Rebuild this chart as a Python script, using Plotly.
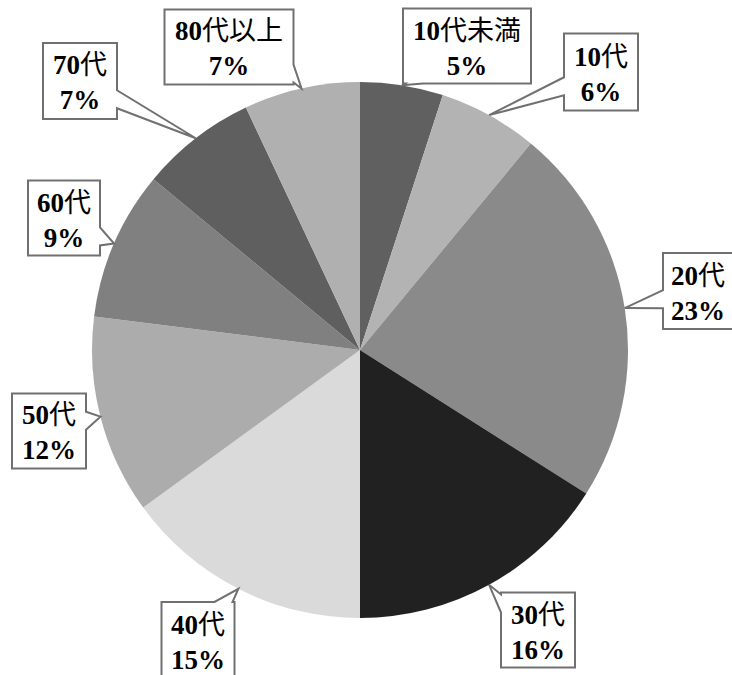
import math
import re
import plotly.graph_objects as go

labels = ["10代未満", "10代", "20代", "30代", "40代", "50代", "60代", "70代", "80代以上"]
values = [5, 6, 23, 16, 15, 12, 9, 7, 7]
colors = ["#606060", "#b3b3b3", "#8a8a8a", "#212121", "#dadada",
          "#acacac", "#808080", "#5f5f5f", "#b0b0b0"]
# label box centres and sizes in pixels (layout)
box_px = [(467, 46), (601, 72), (698, 291), (538, 630), (198, 640),
          (49, 431), (64, 218), (80, 81), (229, 47)]
box_wh = [(128, 75), (74, 77), (70, 76), (74, 75), (73, 76),
          (74, 75), (72, 75), (74, 76), (129, 75)]

W, H = 732, 675
cx, cy, r = 360, 350, 268  # pie centre / radius in px

dom_x = [(cx - r) / W, (cx + r) / W]
dom_y = [(H - cy - r) / H, (H - cy + r) / H]

FONT = "'Liberation Serif', 'Noto Sans CJK JP', serif"


def P(x, y):
    return f"{x / W:.5f},{1 - y / H:.5f}"


def bold_ascii(s):
    return re.sub(r"([0-9%]+)", r"<b>\1</b>", s)


def callout_path(bx, by, bw, bh, ax_, ay_, half=9):
    x0, x1 = bx - bw / 2, bx + bw / 2
    y0, y1 = by - bh / 2, by + bh / 2
    dx, dy = ax_ - bx, ay_ - by
    tx = (bw / 2) / abs(dx) if dx else float("inf")
    ty = (bh / 2) / abs(dy) if dy else float("inf")
    if tx < ty:
        side = "R" if dx > 0 else "L"
        t = by + dy * tx
        lo, hi = y0 + 2, y1 - 2
    else:
        side = "B" if dy > 0 else "T"
        t = bx + dx * ty
        lo, hi = x0 + 2, x1 - 2
    b1 = max(lo, min(hi - 2 * half, t - half))
    b2 = b1 + 2 * half
    pts = [(x0, y0)]
    if side == "T":
        pts += [(b1, y0), (ax_, ay_), (b2, y0)]
    pts.append((x1, y0))
    if side == "R":
        pts += [(x1, b1), (ax_, ay_), (x1, b2)]
    pts.append((x1, y1))
    if side == "B":
        pts += [(b2, y1), (ax_, ay_), (b1, y1)]
    pts.append((x0, y1))
    if side == "L":
        pts += [(x0, b2), (ax_, ay_), (x0, b1)]
    return "M " + " L ".join(P(*p) for p in pts) + " Z"


fig = go.Figure(go.Pie(
    labels=labels, values=values, sort=False, direction="clockwise", rotation=0,
    marker=dict(colors=colors, line=dict(width=0)),
    textinfo="none", hoverinfo="label+percent", showlegend=False,
    domain=dict(x=dom_x, y=dom_y),
))

total = sum(values)
annotations = []
shapes = []
cum = 0
for lab, v, (bx, by), (bw, bh) in zip(labels, values, box_px, box_wh):
    mid = (cum + v / 2) / total * 2 * math.pi
    cum += v
    px = cx + r * math.sin(mid)
    py = cy - r * math.cos(mid)
    pct = round(v / total * 100)
    shapes.append(dict(
        type="path", xref="paper", yref="paper",
        path=callout_path(bx, by, bw, bh, px, py),
        fillcolor="#ffffff", line=dict(color="#707070", width=2), layer="above",
    ))
    annotations.append(dict(
        x=bx / W, y=1 - (by + 2) / H, xref="paper", yref="paper",
        text=bold_ascii(lab) + "<br>" + bold_ascii(f"{pct}%"), showarrow=False,
        font=dict(family=FONT, size=27, color="#000000"),
        align="center", xanchor="center", yanchor="middle",
    ))

fig.update_layout(
    width=W, height=H, margin=dict(l=0, r=0, t=0, b=0),
    paper_bgcolor="#ffffff", plot_bgcolor="#ffffff",
    annotations=annotations, shapes=shapes,
)
fig.write_html("out.html", config={"displayModeBar": False},
               post_script="document.body.style.margin='0';")
